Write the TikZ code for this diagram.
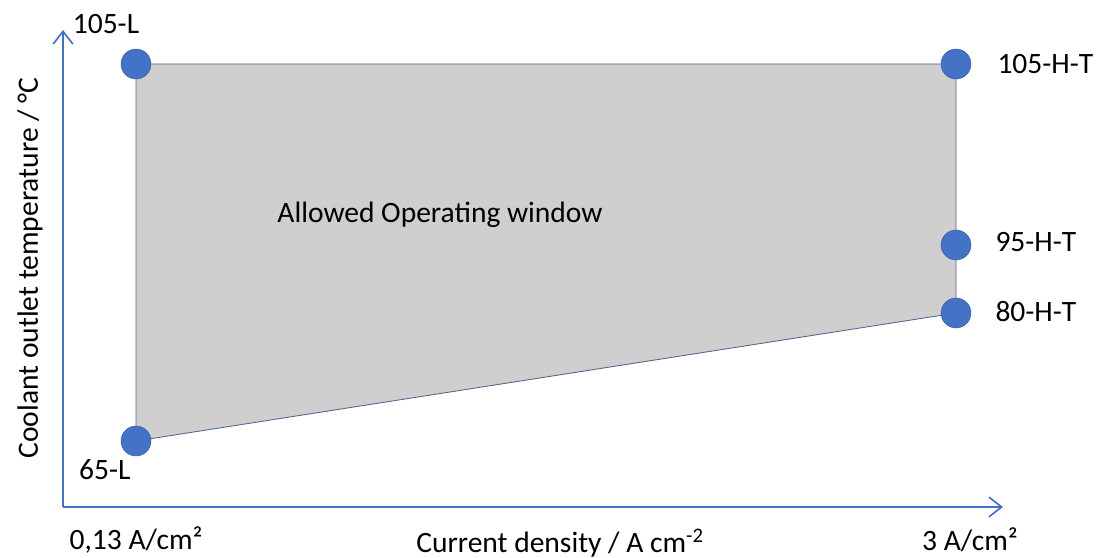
\documentclass[tikz,border=0pt]{standalone}
\usepackage{fontspec}
\setmainfont{Carlito}
\usetikzlibrary{positioning,arrows.meta}
\definecolor{dotblue}{HTML}{4472C4}
\definecolor{wingray}{HTML}{D0CECE}
\definecolor{edgeblue}{HTML}{52658A}

\begin{document}
\begin{tikzpicture}[x=0.025cm,y=-0.025cm,
    opdot/.style={circle,fill=dotblue,draw=dotblue!80!black,line width=0.3pt,inner sep=0pt,minimum size=0.75cm},
    lbl/.style={font=\fontsize{21}{25}\selectfont,inner sep=0pt},
    axisline/.style={dotblue,line width=1.5pt,-{Straight Barb[length=9pt,width=14pt,line width=1.2pt]}}]
    \useasboundingbox (0,0) rectangle (1097,558);
    % corners of the window
    \coordinate (c105L) at (136,64);
    \coordinate (c105H) at (956,64);
    \coordinate (c95H) at (956,245);
    \coordinate (c80H) at (956,313);
    \coordinate (c65L) at (136,441);
    \coordinate (origin) at (63,507);
    \coordinate (ytip) at (63,30);
    \coordinate (xtip) at (1003,507);
    % axes
    \draw[axisline] (origin) -- (ytip);
    \draw[axisline] (origin) -- (xtip);
    % window
    \filldraw[fill=wingray,draw=edgeblue,line width=0.6pt] (c105L) -- (c105H) -- (c80H) -- (c65L) -- cycle;
    \node[opdot] (p105L) at (c105L) {};
    \node[opdot] (p105H) at (c105H) {};
    \node[opdot] (p95H) at (c95H) {};
    \node[opdot] (p80H) at (c80H) {};
    \node[opdot] (p65L) at (c65L) {};
    % labels
    \node[lbl,above=0.375cm of p105L,xshift=-0.75cm] (t105L) {105-L};
    \node[lbl,below=0.08cm of p65L,xshift=-0.78cm] (t65L) {65-L};
    \node[lbl,right=0.65cm of p105H] (t105H) {105-H-T};
    \node[lbl,right=0.6cm of p95H,yshift=0.08cm] (t95H) {95-H-T};
    \node[lbl,right=0.6cm of p80H,yshift=0.04cm] (t80H) {80-H-T};
    \node[lbl] (window) at (440,215) {Allowed Operating window};
    \node[lbl] (xlow) at (136,540) {0,13 A/cm²};
    \node[lbl] (xhigh) at (970,540) {3 A/cm²};
    \node[lbl] (xtitle) at (560,543) {Current density / A cm\textsuperscript{-2}};
    \node[lbl,rotate=90] (ytitle) at (30,268) {Coolant outlet temperature / °C};
\end{tikzpicture}
\end{document}
